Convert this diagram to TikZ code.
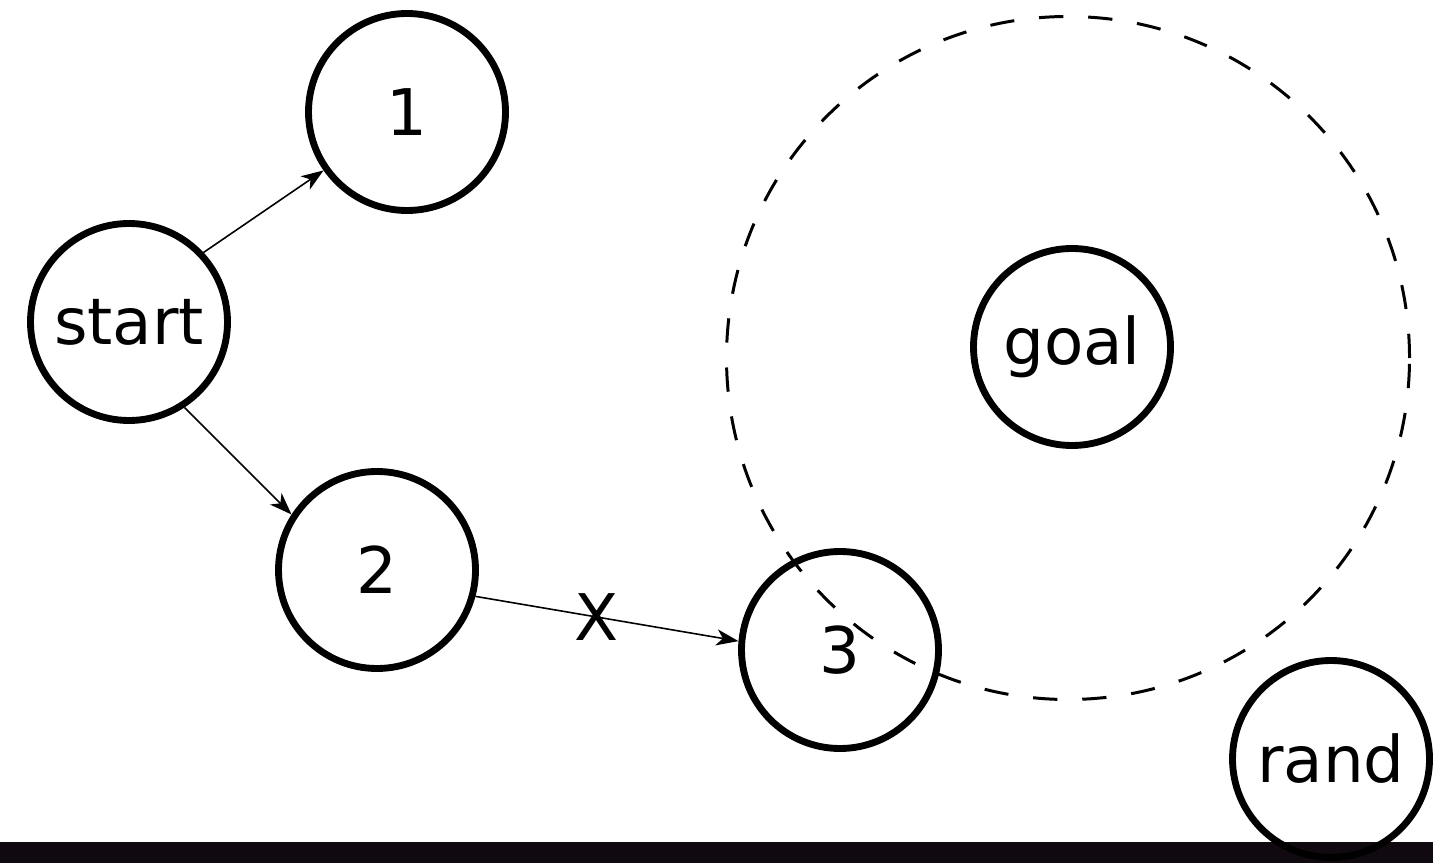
\documentclass[tikz,border=0pt]{standalone}
\usepackage{fontspec}
\setmainfont{DejaVu Sans}
\usetikzlibrary{arrows.meta}
\definecolor{barcol}{RGB}{16,10,16}

\begin{document}
\begin{tikzpicture}[
		state/.style={circle, draw=black, line width=1.95pt, minimum size=1.97cm, inner sep=1pt, font=\fontsize{18.3}{22}\selectfont},
		zone/.style={circle, draw=black, line width=0.85pt, dash pattern=on 6.9pt off 7.1pt, minimum size=6.83cm, inner sep=0pt},
		link/.style={-{Stealth[length=6.3pt, width=4.6pt, inset=1.8pt]}, line width=0.45pt},
	]
	\useasboundingbox (0,0) rectangle (14.33,8.63);
	\fill[barcol] (0,0) rectangle (14.33,0.21);
	
	\node[zone]  (region) at (10.68, 5.05) {};
	
	\node[state] (start)  at ( 1.29, 5.41) {start};
	\node[state] (n1)     at ( 4.07, 7.51) {1};
	\node[state] (n2)     at ( 3.77, 2.93) {2};
	\node[state] (n3)     at ( 8.40, 2.13) {3};
	\node[state] (goal)   at (10.72, 5.16) {goal};
	\node[state] (rand)   at (13.31, 1.04) {rand};
	
	\draw[link] (start.43) -- (n1.215);
	\draw[link] (start.-57) -- (n2.147);
	\draw[link] (n2.-15) -- node[pos=0.46, font=\fontsize{18.3}{22}\selectfont, inner sep=0pt] (cut) {X} (n3.175);
\end{tikzpicture}
\end{document}
